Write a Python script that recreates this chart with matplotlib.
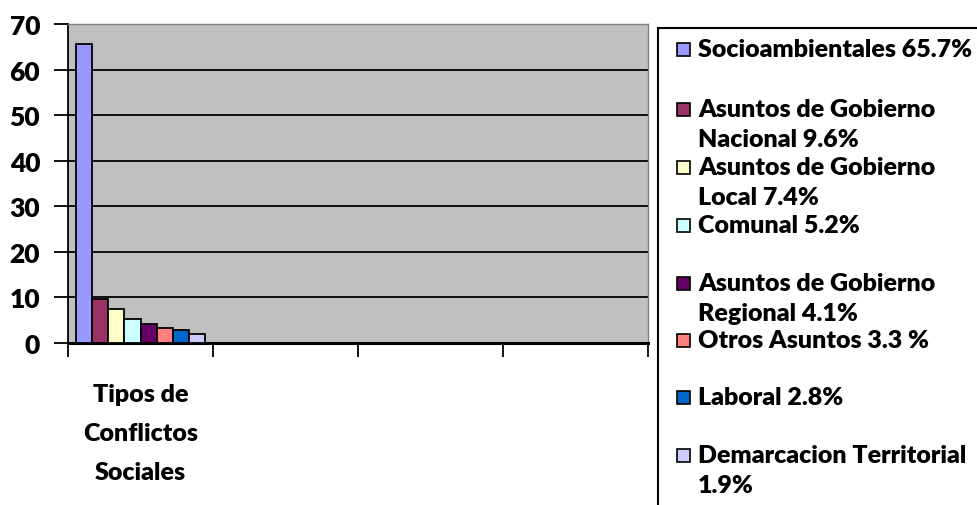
import matplotlib
matplotlib.use("Agg")
import matplotlib.pyplot as plt
from matplotlib.patches import Rectangle

categories = ["Tipos de\nConflictos\nSociales", "", "", ""]
series_names = ["Socioambientales 65.7%", "Asuntos de Gobierno\nNacional 9.6%",
                "Asuntos de Gobierno\nLocal 7.4%", "Comunal 5.2%",
                "Asuntos de Gobierno\nRegional 4.1%", "Otros Asuntos 3.3 %",
                "Laboral 2.8%", "Demarcacion Territorial\n1.9%"]
series_values = [65.7, 9.6, 7.4, 5.2, 4.1, 3.3, 2.8, 1.9]
series_colors = ["#9999FF", "#993366", "#FFFFCC", "#CCFFFF", "#660066", "#FF8080", "#0066CC", "#CCCCFF"]
yticks = [0, 10, 20, 30, 40, 50, 60, 70]

W, H = 978, 506
fig = plt.figure(figsize=(W/100, H/100), dpi=100)
FONT = "Lato"
WT = "heavy"
FS = 18
ax = fig.add_axes([68/W, 1-344/H, (648-68)/W, (344-25)/H])
ax.set_facecolor("#C0C0C0")

n = len(series_values)
bw = 1/(n+1)
for i, (v, c) in enumerate(zip(series_values, series_colors)):
    x = 0 - 0.5 + bw/2 + i*bw
    ax.bar(x, v, width=bw, align="edge", color=c, edgecolor="black", linewidth=1.3, zorder=3)

ax.set_xlim(-0.5, len(categories)-0.5)
ax.set_ylim(0, 70)
ax.set_yticks(yticks)
ax.set_yticklabels([str(t) for t in yticks], fontsize=19, fontweight=WT, family=FONT)
ax.set_xticks([i + 0.5 for i in range(-1, len(categories))])
ax.set_xticklabels([""]*(len(categories)+1))
ax.tick_params(axis="both", direction="out", length=10, width=1.3, color="black")
ax.tick_params(axis="y", pad=10)
for i, lab in enumerate(categories):
    if lab:
        ax.text(i, -0.125, lab, transform=ax.get_xaxis_transform(), ha="center", va="top",
                fontsize=FS, fontweight=WT, family=FONT, linespacing=1.95)
ax.grid(axis="y", color="black", linewidth=1.3, zorder=1)
ax.set_axisbelow(True)
for s in ["top", "right"]:
    ax.spines[s].set_color("#808080")
    ax.spines[s].set_linewidth(1.0)
ax.spines["left"].set_color("black")
ax.spines["left"].set_linewidth(1.3)
ax.spines["bottom"].set_color("black")
ax.spines["bottom"].set_linewidth(2.2)

# legend box
fig.patches.append(Rectangle((658/W, -0.05), 0.5, 1.05 - 29/H, transform=fig.transFigure,
                             facecolor="white", edgecolor="black", linewidth=1.5))
starts = [50, 110, 168, 226, 284, 341, 398, 456]
sq = 13
for name, c, y in zip(series_names, series_colors, starts):
    fig.patches.append(Rectangle((677/W, 1-(y+sq/2)/H), sq/W, sq/H, transform=fig.transFigure,
                                 facecolor=c, edgecolor="black", linewidth=1.2))
    for k, line in enumerate(name.split("\n")):
        fig.text(698/W, 1-(y + k*30)/H, line, ha="left", va="center", fontsize=FS,
                 fontweight=WT, family=FONT)

fig.savefig("out.png", dpi=100)
